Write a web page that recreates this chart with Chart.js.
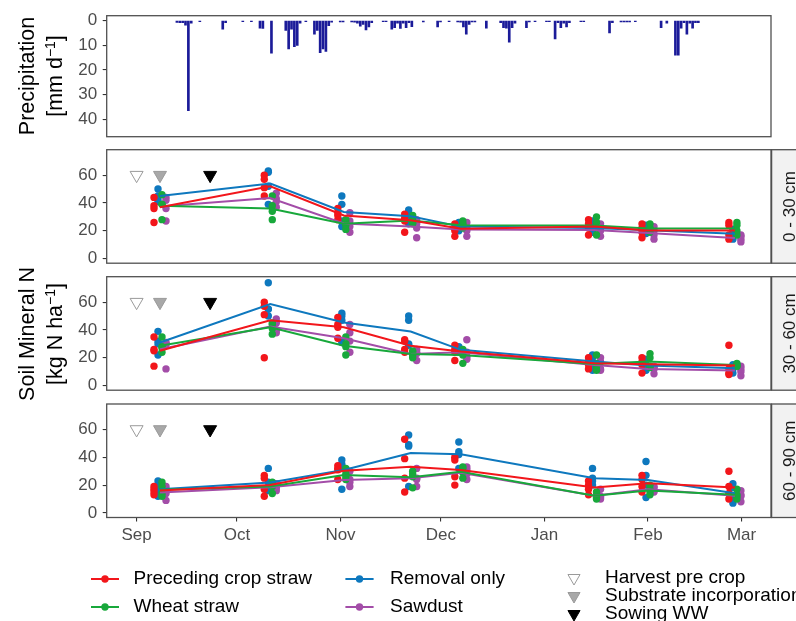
<!DOCTYPE html>
<html><head><meta charset="utf-8">
<script src="https://cdn.jsdelivr.net/npm/chart.js@4.4.1/dist/chart.umd.min.js"></script>
<style>
html,body{margin:0;padding:0;background:#fff;}
#wrap{position:relative;width:796px;height:621px;overflow:hidden;background:#fff;}
#wrap canvas{position:absolute;left:0;top:0;}
.ytitle{position:absolute;font-family:"Liberation Sans",Arial,sans-serif;font-size:21.5px;color:#000;white-space:nowrap;line-height:1;transform:translate(-50%,-50%) rotate(-90deg);}
.ytitle sup{font-size:14px;vertical-align:7px;line-height:0;}
</style></head><body>
<div id="wrap">
<canvas id="cP" width="796" height="621"></canvas>
<canvas id="c1" width="796" height="621"></canvas>
<canvas id="c2" width="796" height="621"></canvas>
<canvas id="c3" width="796" height="621"></canvas>
<div class="ytitle" style="left:28px;top:76px">Precipitation</div>
<div class="ytitle" style="left:56px;top:76px">[mm d<sup>−1</sup>]</div>
<div class="ytitle" style="left:28px;top:334px">Soil Mineral N</div>
<div class="ytitle" style="left:56px;top:334px">[kg N ha<sup>−1</sup>]</div>
</div>
<script>
// ---------------- data ----------------
const monthDays   = [0, 30, 61, 91, 122, 153, 181];           // days after 1 Sep
const monthLabels = ['Sep','Oct','Nov','Dec','Jan','Feb','Mar'];
const precipTicks = [0, 10, 20, 30, 40];
const soilTicks   = [0, 20, 40, 60];

const precipDays = [-1,0,1,2,3,4,7,15,16,22,25,28,29,32,37,38,39,40,41,42,44,47,48,49,50,51,52,53,56,57,
  60,61,62,63,64,65,66,67,71,72,74,75,76,77,78,79,80,81,85,90,91,94,97,98,99,100,101,102,103,107,
  112,113,114,115,116,117,121,122,124,128,129,131,132,133,134,135,136,140,141,150,151,154,155,156,157,159,
  168,170,173,174,175,176,177,178,179,180,181];
const precipMm = [0.7,0.8,0.8,1.8,36.5,1.0,0.4,3.5,0.8,0.4,0.4,3.0,3.2,13.2,4.0,11.5,3.5,10.5,10.0,1.0,0.4,5.5,4.0,13.0,11.5,12.5,2.0,0.6,0.5,0.5,
  0.5,0.6,1.0,2.2,1.5,3.8,2.5,0.8,0.4,0.4,3.5,2.8,1.0,3.2,1.0,2.8,0.8,2.4,0.5,2.5,0.5,0.4,0.5,0.6,2.5,5.5,1.5,0.5,0.5,3.0,
  0.8,2.8,3.0,8.7,2.8,1.0,2.8,0.5,0.4,0.4,0.4,7.4,0.8,2.8,1.0,2.5,0.8,0.4,0.4,5.0,0.8,0.5,0.5,0.5,0.5,0.4,
  2.8,1.0,14.0,14.0,3.0,0.8,5.5,1.0,3.0,0.8,0.8];

const sampleDays  = [7, 40, 62, 82, 97, 137, 153, 179];
const treatments  = ['Preceding crop straw','Wheat straw','Removal only','Sawdust'];
const depthLabels = ['0 - 30 cm','30 - 60 cm','60 - 90 cm'];
const eventNames  = ['Harvest pre crop','Substrate incorporation','Sowing WW'];
const eventDays   = [0, 7, 22];
const eventLevel  = [60, 60, 60];

// 0 - 30 cm
const prec030 = [[44,38,36,26],[60,57,51,45],[36,33,31,28],[32,29,27,19],[25,22,20,16],[28,25,22,17],[25,22,19,15],[26,24,17,14]];
const prec030Mean = [37,52,31,27.5,21.5,23,20.2,20.2];
const wheat030 = [[46,39,39,28],[45,38,34,28],[28,26,24,21],[31,28,26,25],[27,25,24,22],[30,26,22,17],[25,22,21,19],[26,24,20,17]];
const wheat030Mean = [38,36,25,27.4,24,23.8,21.6,21.6];
const remov030 = [[50,45,43,41],[63,62,52,39],[45,39,27,23],[35,32,30,25],[26,24,22,20],[27,23,21,19],[24,21,19,18],[21,19,17,14]];
const remov030Mean = [45,54,33.5,30.5,23,22,20.4,17.8];
const saw030 = [[44,42,36,27],[47,43,41,37],[33,27,23,19],[28,25,22,15],[26,22,20,16],[25,22,20,16],[23,20,17,14],[17,16,14,12]];
const saw030Mean = [37.5,43.5,25.2,23,21,20.5,18.5,14.9];

// 30 - 60 cm
const prec3060 = [[35,26,25,14],[60,57,51,20],[49,44,42,34],[33,32,26,24],[29,26,24,18],[20,17,15,12],[20,17,15,9],[29,12,9,8]];
const prec3060Mean = [25,47,42,28.6,24.5,16,15.4,14.4];
const wheat3060 = [[35,28,27,24],[45,44,41,37],[35,30,28,22],[25,24,22,20],[26,24,22,16],[22,16,14,11],[23,20,14,13],[16,15,14,14]];
const wheat3060Mean = [28.6,42,28.6,22.8,22,15.6,17.3,14.9];
const remov3060 = [[39,32,30,22],[74,55,55,50],[52,50,47,31],[50,47,30,29],[28,26,25,24],[22,20,16,11],[19,15,13,11],[15,13,12,9]];
const remov3060Mean = [31,58.6,45.4,38.9,25.7,17.3,14.4,12.5];
const saw3060 = [[31,30,30,12],[48,45,40,38],[44,38,32,24],[26,24,23,18],[33,24,21,19],[20,17,12,11],[14,13,12,8.5],[14,12,10,7]];
const saw3060Mean = [26.2,42.5,34,22.8,24,14.9,12,10.8];

// 60 - 90 cm
const prec6090 = [[19,17,15,13],[27,25,17,12],[34,32,31,24],[53,39,25,15],[40,38,26,20],[23,20,17,13],[27,24,19,15],[30,19,14,10]];
const prec6090Mean = [16.1,20.1,30.3,33.2,30.8,18.2,21.3,18.2];
const wheat6090 = [[22,19,14,12],[22,21,19,14],[32,28,26,24],[30,28,26,18],[33,32,29,25],[15,13,11,10],[20,17,15,13],[17,13,12,10]];
const wheat6090Mean = [16.6,19,27.3,25.6,29.6,12.3,16.1,13];
const remov6090 = [[23,19,15,12],[32,22,17,16],[38,35,33,17],[56,49,48,19],[51,44,42,32],[32,25,23,20],[37,27,20,11],[21,18,11,7]];
const remov6090Mean = [17,21.8,30.8,43.1,42.2,24.9,23.7,14.2];
const saw6090 = [[19,17,14,9],[21,19,18,16],[30,24,22,19],[32,25,24,19],[33,31,28,24],[17,12,11,10],[19,18,16,15],[16,13,12,8]];
const saw6090Mean = [14.7,18.5,23.7,24.9,28.9,12.3,17,12.3];

// ---------------- styles / layout ----------------
const FONT = '"Liberation Sans", Arial, sans-serif';
const treatColors = ['#F2161B','#18A83B','#0E78BE','#A34DA8'];
const dodgePx = [-6, 2, -2, 6];           // horizontal dodge of replicate points
const eventFill = ['#FFFFFF','#A8A8A8','#000000'];
const eventLine = ['#9A9A9A','#9A9A9A','#000000'];
const W = 796, H = 621;
const PLOT_L = 106.7, PLOT_R = 771;
const X0PX = 136.6, PX_PER_DAY = 3.3425;
const XMIN = (PLOT_L - X0PX) / PX_PER_DAY, XMAX = (PLOT_R - X0PX) / PX_PER_DAY;
const XAXIS_H = 30;
const soilTops = [149.7, 276.7, 404];
const SOIL_H = 113.5;

Chart.defaults.font.family = FONT;
Chart.defaults.color = '#4D4D4D';

const framePlugin = {
  id: 'frame',
  beforeDraw(chart, args, o) {
    if (!o.label) return;
    const a = chart.chartArea, c = chart.ctx;
    c.save(); c.fillStyle = '#F2F2F2';
    c.fillRect(a.right, a.top, 40, a.bottom - a.top); c.restore();
  },
  afterDraw(chart, args, o) {
    const a = chart.chartArea, c = chart.ctx;
    c.save();
    c.strokeStyle = '#505050'; c.lineWidth = 1.3;
    c.strokeRect(a.left, a.top, a.right - a.left, a.bottom - a.top);
    if (o.label) {
      c.strokeRect(a.right + 0.6, a.top, 40, a.bottom - a.top);
      c.translate(a.right + 19, (a.top + a.bottom) / 2);
      c.rotate(-Math.PI / 2);
      c.fillStyle = '#1A1A1A'; c.font = '17px ' + FONT;
      c.textAlign = 'center'; c.textBaseline = 'middle';
      c.fillText(o.label, 0, 0);
    }
    c.restore();
  }
};

const legendPlugin = {
  id: 'bottomLegend',
  afterDraw(chart, args, o) {
    if (!o.show) return;
    const c = chart.ctx;
    c.save();
    c.font = '19px ' + FONT; c.textBaseline = 'middle'; c.textAlign = 'left';
    const colX = [[91, 119, 133.5], [345.4, 373.6, 390]];
    const rowY = [579, 607];
    treatments.forEach((name, i) => {
      const col = Math.floor(i / 2), row = i % 2;
      const [x1, x2, tx] = colX[col], y = rowY[row];
      c.strokeStyle = treatColors[i]; c.lineWidth = 2;
      c.beginPath(); c.moveTo(x1, y); c.lineTo(x2, y); c.stroke();
      c.fillStyle = treatColors[i];
      c.beginPath(); c.arc((x1 + x2) / 2, y, 3.7, 0, Math.PI * 2); c.fill();
      c.fillStyle = '#000'; c.fillText(name, tx, y);
    });
    const ty = [578, 596, 614];
    eventNames.forEach((name, i) => {
      const cx = 574, cy = ty[i], r = 7;
      c.beginPath();
      c.moveTo(cx - r * 0.866, cy - r / 2); c.lineTo(cx + r * 0.866, cy - r / 2); c.lineTo(cx, cy + r); c.closePath();
      c.fillStyle = eventFill[i]; c.fill();
      c.strokeStyle = eventLine[i]; c.lineWidth = 1; c.stroke();
      c.fillStyle = '#000'; c.fillText(name, 605, cy);
    });
    c.restore();
  }
};

function yScale(min, max, ticksArr, reverse) {
  return {
    type: 'linear', min, max, reverse: !!reverse, position: 'left',
    afterBuildTicks: s => { s.ticks = ticksArr.map(v => ({ value: v })); },
    afterFit: s => { s.width = PLOT_L; },
    ticks: { font: { size: 17 }, color: '#4D4D4D', padding: 5.5, autoSkip: false },
    grid: { drawOnChartArea: false, drawTicks: true, tickLength: 4, color: '#333333', lineWidth: 1.1 },
    border: { display: false }
  };
}
function xScale(show) {
  return {
    type: 'linear', min: XMIN, max: XMAX, display: show, position: 'bottom',
    afterBuildTicks: s => { s.ticks = monthDays.map(v => ({ value: v })); },
    afterFit: s => { s.height = show ? XAXIS_H : 0; },
    ticks: { callback: (v, i) => monthLabels[i], font: { size: 17 }, color: '#4D4D4D', padding: 4, maxRotation: 0, autoSkip: false },
    grid: { drawOnChartArea: false, drawTicks: true, tickLength: 4, color: '#333333', lineWidth: 1.1 },
    border: { display: false }
  };
}
function baseOptions(top, bottom, scales, plugins) {
  return {
    responsive: false, animation: false, devicePixelRatio: 1,
    layout: { padding: { left: 0, right: W - PLOT_R, top: top, bottom: H - bottom - (scales.x.display ? XAXIS_H : 0) } },
    plugins: Object.assign({ legend: { display: false }, tooltip: { enabled: false } }, plugins),
    scales
  };
}

// ---------------- precipitation ----------------
new Chart(document.getElementById('cP'), {
  type: 'bar',
  data: { datasets: [{
    data: precipDays.map((d, i) => ({ x: d, y: precipMm[i] })),
    backgroundColor: '#1B1B99', borderWidth: 0, barThickness: 2
  }] },
  options: baseOptions(15, 136.7, { x: xScale(false), y: yScale(-2.0, 47.0, precipTicks, true) }, { frame: {} }),
  plugins: [framePlugin]
});

// ---------------- soil panels ----------------
const depthSets = [
  [[prec030, prec030Mean], [wheat030, wheat030Mean], [remov030, remov030Mean], [saw030, saw030Mean]],
  [[prec3060, prec3060Mean], [wheat3060, wheat3060Mean], [remov3060, remov3060Mean], [saw3060, saw3060Mean]],
  [[prec6090, prec6090Mean], [wheat6090, wheat6090Mean], [remov6090, remov6090Mean], [saw6090, saw6090Mean]]
];

depthSets.forEach((sets, p) => {
  const datasets = [];
  datasets.push({
    type: 'scatter', order: 0,
    data: eventDays.map((d, i) => ({ x: d, y: eventLevel[i] })),
    pointStyle: 'triangle', pointRotation: 180, pointRadius: 7.5,
    pointBackgroundColor: eventFill, pointBorderColor: eventLine, pointBorderWidth: 1
  });
  sets.forEach(([reps, means], t) => {
    datasets.push({
      type: 'scatter', order: 1, showLine: true,
      data: sampleDays.map((d, i) => ({ x: d, y: means[i] })),
      borderColor: treatColors[t], borderWidth: 2, pointRadius: 0, fill: false, tension: 0
    });
    const pts = [];
    reps.forEach((vals, i) => vals.forEach(v => pts.push({ x: sampleDays[i] + dodgePx[t] / PX_PER_DAY, y: v })));
    datasets.push({
      type: 'scatter', order: 2, data: pts,
      pointRadius: 3.7, pointBackgroundColor: treatColors[t], pointBorderWidth: 0, borderColor: treatColors[t]
    });
  });
  const top = soilTops[p], bottom = top + SOIL_H, last = p === 2;
  new Chart(document.getElementById('c' + (p + 1)), {
    type: 'scatter',
    data: { datasets },
    options: baseOptions(top, bottom, { x: xScale(last), y: yScale(-3.3, 78.3, soilTicks, false) },
      { frame: { label: depthLabels[p] }, bottomLegend: { show: last } }),
    plugins: [framePlugin, legendPlugin]
  });
});
</script>
</body></html>
